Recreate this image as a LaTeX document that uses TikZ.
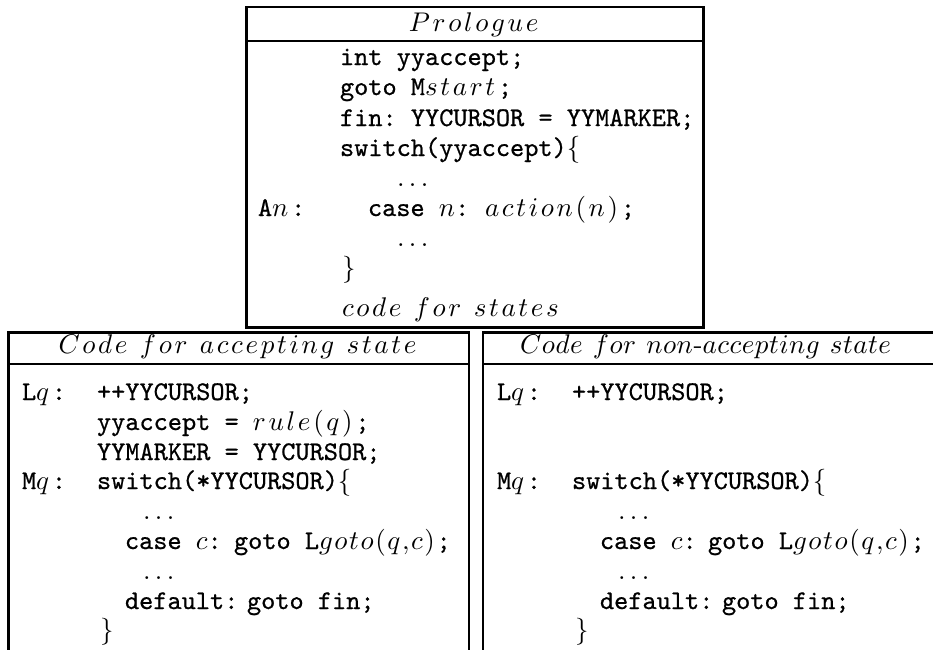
\documentclass[tikz,border=0pt]{standalone}
\usepackage{fontspec}
\setmonofont{Latin Modern Mono}[FakeBold=0.7]
% math italic words set letter by letter with a little extra tracking;
% "~" inside the argument stands for a word space
\newdimen\mskern \mskern=1pt
\makeatletter
\def\ms#1{\ms@a#1\ms@end}
\def\ms@end{\ms@end}
\def\ms@a#1{\ifx#1\ms@end\else\ifx#1~\hspace{3.6pt}\else$#1$\kern\mskern\fi\expandafter\ms@a\fi}
\makeatother
\tikzset{
  frame/.style={line width=0.95pt, line cap=rect},
  code/.style={anchor=base west, inner sep=0pt, outer sep=0pt, font=\ttfamily},
  head/.style={anchor=base, inner sep=0pt, outer sep=0pt},
}
\begin{document}
\begin{tikzpicture}[x=0.37037pt, y=-0.37037pt]
\useasboundingbox (0,0) rectangle (933,649);

% --- frames ---
\draw[frame] (246.5,327.5) -- (246.5,7) -- (703.5,7) -- (703.5,327.5) -- cycle;
\draw[frame] (246.5,41) -- (703.5,41);
\draw[frame] (8.5,660) -- (8.5,332.5) -- (469,332.5) -- (469,660);
\draw[frame] (8.5,364) -- (469,364);
\draw[frame] (483,660) -- (483,332.5) -- (945,332.5);
\draw[frame] (483,364) -- (945,364);

% --- prologue ---
\node[head] (hp) at (475,31) {\ms{Prologue}};
\node[code] (p1) at (340,65) {int yyaccept;};
\node[code] (p2) at (340,95) {goto M\ms{start};};
\node[code] (p3) at (340,126) {fin: YYCURSOR = YYMARKER;};
\node[code] (p4) at (340,156) {switch(yyaccept)$\{$};
\node[code] (p5) at (397,186) {$\ldots$};
\node[code] (p6a) at (258,216) {A$n$\kern1pt:};
\node[code] (p6b) at (368,216) {case $n$:};
\node[code] (p6c) at (485,216) {\ms{action(n)};};
\node[code] (p7) at (397,246) {$\ldots$};
\node[code] (p8) at (342,276) {$\}$};
\node[code] (p9) at (342,316) {\ms{code~for~states}};

% --- accepting state ---
\node[head] (ha) at (239,353) {\ms{Code~for~accepting~state}};
\node[code] (a1l) at (22,400) {L$q$\kern1pt:};
\node[code] (a1) at (97,400) {++YYCURSOR;};
\node[code] (a2) at (97,430) {yyaccept = \ms{rule(q)};};
\node[code] (a3) at (97,460) {YYMARKER = YYCURSOR;};
\node[code] (a4l) at (22,489) {M$q$\kern1pt:};
\node[code] (a4) at (97,489) {switch(*YYCURSOR)$\{$};
\node[code] (a5) at (143,519) {$\ldots$};
\node[code] (a6a) at (125,549) {case $c$:};
\node[code] (a6b) at (234,549) {\mskern=0.6pt goto L\ms{goto(q,c)};};
\node[code] (a7) at (143,579) {$\ldots$};
\node[code] (a8a) at (125,609) {default:};
\node[code] (a8b) at (247,609) {goto fin;};
\node[code] (a9) at (100,638) {$\}$};

% --- non-accepting state ---
\node[head] (hn) at (706,353) {\mskern=0.2pt\ms{Code~for~non}{\rmfamily-}\ms{accepting~state}};
\node[code] (n1l) at (497,400) {L$q$\kern1pt:};
\node[code] (n1) at (572,400) {++YYCURSOR;};
\node[code] (n4l) at (497,489) {M$q$\kern1pt:};
\node[code] (n4) at (572,489) {switch(*YYCURSOR)$\{$};
\node[code] (n5) at (618,519) {$\ldots$};
\node[code] (n6a) at (600,549) {case $c$:};
\node[code] (n6b) at (708,549) {\mskern=0.6pt goto L\ms{goto(q,c)};};
\node[code] (n7) at (618,579) {$\ldots$};
\node[code] (n8a) at (600,609) {default:};
\node[code] (n8b) at (722,609) {goto fin;};
\node[code] (n9) at (575,638) {$\}$};
\end{tikzpicture}
\end{document}
